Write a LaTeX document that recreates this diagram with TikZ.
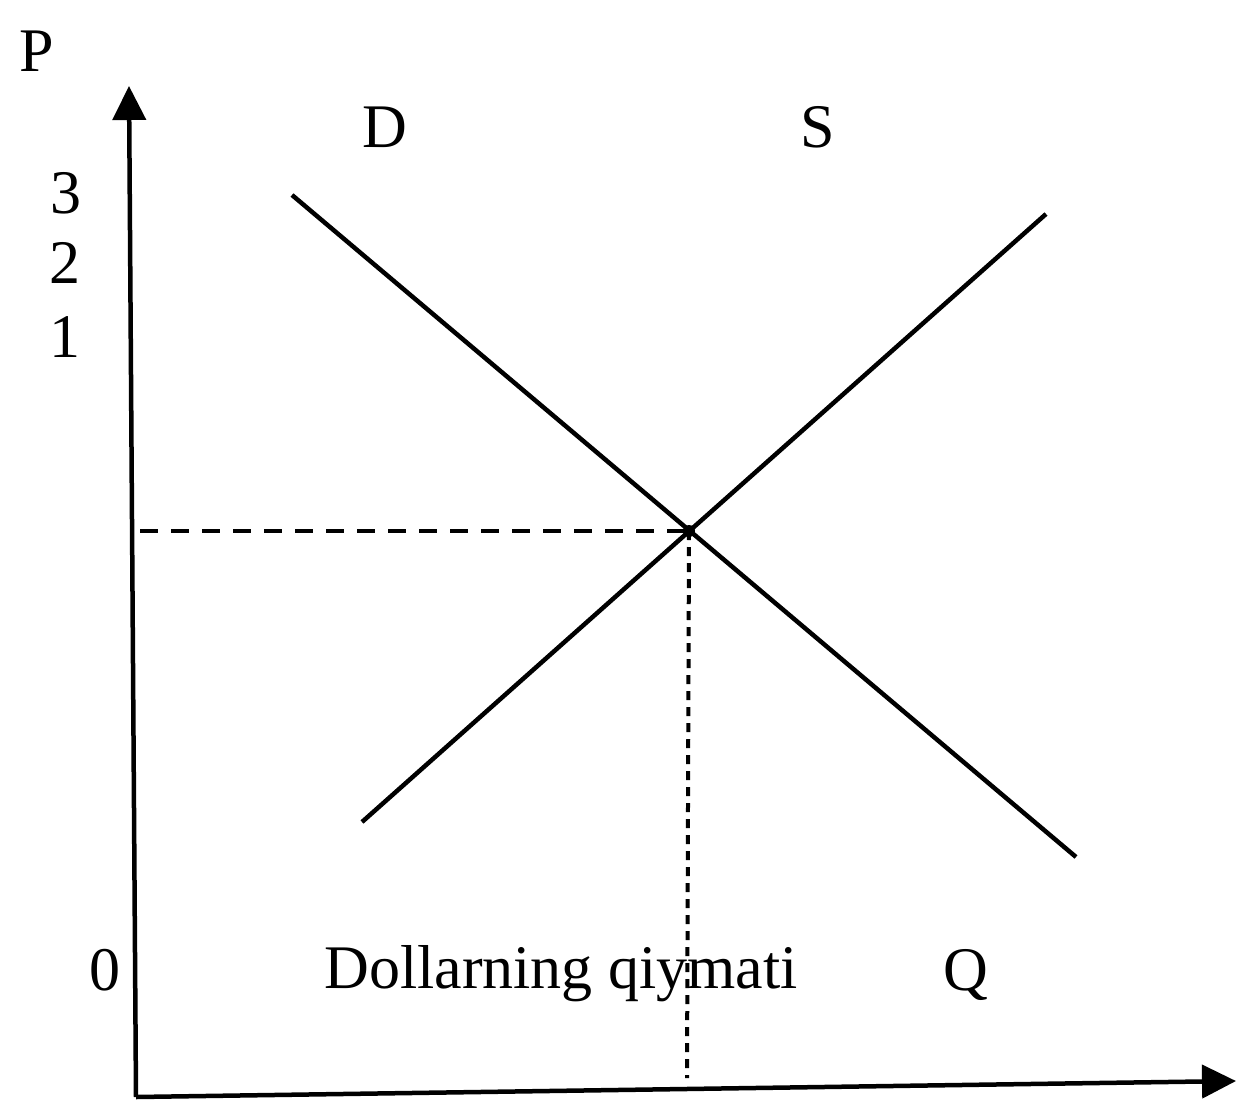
\documentclass[tikz,border=0pt]{standalone}
\usepackage{fontspec}
\setmainfont{Liberation Serif}
\usetikzlibrary{arrows.meta}
\tikzset{
  lbl/.style={inner sep=0pt, anchor=base, font=\fontsize{62}{62}\selectfont},
  axis/.style={line width=4.5pt, -{Triangle[width=33pt,length=34pt]}},
  curve/.style={line width=4.5pt},
  guideh/.style={line width=4pt, dash pattern=on 18pt off 13pt},
  guidev/.style={line width=4pt, dash pattern=on 9pt off 7pt}
}
\begin{document}
\begin{tikzpicture}[x=1pt,y=-1pt]
\useasboundingbox (0,0) rectangle (1238,1102);
% origin and axes
\coordinate (O) at (136,1097);
\coordinate (Ptip) at (129,86);
\coordinate (Qtip) at (1236,1081);
\draw[axis] (O) -- (Ptip);
\draw[axis] (O) -- (Qtip);
% labels
\node[lbl] (P) at (37,72) {P};
\node[lbl] (t3) at (66,213) {3};
\node[lbl] (t2) at (65,283) {2};
\node[lbl] (t1) at (65,357) {1};
\node[lbl] (Dl) at (385,148) {D};
\node[lbl] (Sl) at (818,148) {S};
\node[lbl] (zero) at (105,990) {0};
\node[lbl] (dq) at (561,988) {Dollarning qiymati};
\node[lbl] (Ql) at (966,990) {Q};
% demand and supply
\coordinate (D1) at (292,195);
\coordinate (D2) at (1076,857);
\coordinate (S1) at (362,822);
\coordinate (S2) at (1046,214);
\draw[curve] (D1) -- (D2);
\draw[curve] (S1) -- (S2);
% equilibrium
\coordinate (E) at (689,531);
\coordinate (Ey) at (140,531);
\coordinate (Ex) at (687,1078);
\fill (E) circle (6pt);
\draw[guideh] (Ey) -- (E);
\draw[guidev] (E) -- (Ex);
\end{tikzpicture}
\end{document}
